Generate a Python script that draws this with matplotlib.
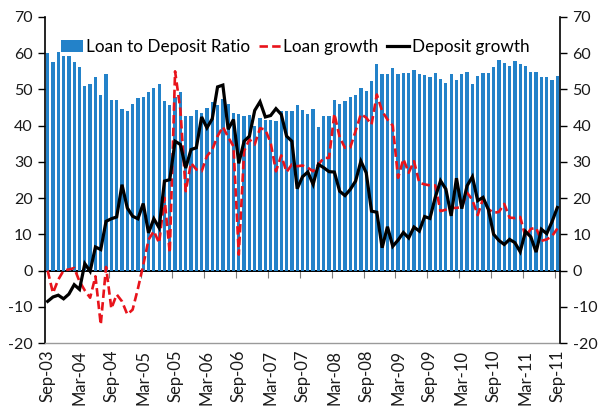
import matplotlib
matplotlib.use("Agg")
import matplotlib.pyplot as plt
from matplotlib.ticker import FixedLocator, NullFormatter
import numpy as np

plt.rcParams['font.family'] = ['Lato', 'DejaVu Sans']

# Monthly series, Sep-03 .. Sep-11
loan_to_deposit = [60.0, 57.7, 60.4, 59.3, 59.3, 57.7, 56.1, 51.0, 51.6, 53.3,
                   48.5, 54.2, 47.0, 47.0, 44.7, 44.1, 46.1, 47.7, 47.9, 49.2,
                   50.4, 51.5, 46.8, 45.6, 48.0, 49.4, 42.8, 42.8, 44.2, 43.6,
                   44.9, 46.5, 45.6, 47.4, 45.9, 43.4, 43.1, 42.8, 43.0, 39.9,
                   42.0, 41.7, 41.7, 41.3, 44.0, 44.0, 44.0, 45.6, 44.3, 43.2,
                   44.5, 39.7, 42.7, 42.7, 47.1, 45.9, 46.7, 47.9, 48.6, 50.5,
                   49.5, 52.3, 57.1, 54.3, 54.3, 56.0, 54.4, 54.6, 54.6, 55.4,
                   54.4, 54.0, 53.5, 54.5, 53.0, 51.7, 54.2, 52.5, 54.3, 54.9,
                   51.6, 53.7, 54.5, 54.6, 56.3, 58.2, 57.4, 56.4, 57.8, 57.1,
                   56.4, 54.8, 54.8, 53.5, 53.5, 52.5, 53.7]

loan_growth = [0.0, -6.2, -2.5, 0.0, 0.3, 0.7, -3.0, -5.5, -7.5, -1.6,
               -14.9, 1.0, -10.5, -6.6, -8.5, -12.1, -10.8, -5.0, 1.5, 8.5,
               10.9, 7.6, 20.1, 4.9, 55.0, 44.4, 21.9, 29.7, 27.9, 27.4,
               31.6, 33.4, 37.1, 39.7, 36.8, 34.3, 4.4, 33.0, 36.2, 34.8,
               39.3, 38.9, 35.3, 27.4, 31.8, 27.2, 29.3, 28.8, 29.0, 28.4,
               27.4, 29.3, 31.1, 31.1, 43.3, 36.8, 33.9, 34.0, 38.5, 43.2,
               42.2, 40.3, 48.6, 44.0, 41.7, 40.0, 25.6, 30.8, 27.0, 30.2,
               24.2, 23.8, 23.5, 23.5, 16.4, 16.8, 17.3, 17.3, 17.5, 21.5,
               19.5, 15.3, 19.8, 17.0, 15.9, 16.2, 18.4, 14.6, 14.5, 14.8,
               9.3, 11.5, 11.8, 8.2, 8.6, 9.5, 11.6]

deposit_growth = [-8.5, -7.3, -6.8, -7.8, -6.5, -3.9, -5.2, 1.9, -0.2, 6.5,
                  5.8, 13.6, 14.3, 14.8, 23.7, 17.3, 15.0, 14.3, 18.5, 10.4,
                  14.3, 11.8, 24.7, 25.1, 35.7, 34.8, 28.3, 33.4, 33.9, 42.4,
                  39.4, 41.9, 50.7, 51.2, 39.0, 41.7, 29.6, 35.7, 37.1, 44.2,
                  46.6, 42.4, 42.8, 44.7, 43.1, 37.1, 35.7, 22.6, 25.9, 27.2,
                  23.8, 29.3, 28.4, 27.3, 27.2, 21.9, 20.7, 22.4, 24.7, 30.2,
                  27.0, 16.4, 16.1, 6.3, 12.1, 6.7, 8.4, 10.5, 9.0, 12.0,
                  10.9, 14.9, 14.4, 20.2, 24.8, 22.5, 15.1, 25.5, 17.1, 23.4,
                  25.9, 19.3, 20.2, 16.9, 10.0, 8.3, 7.2, 8.6, 7.7, 5.2,
                  10.8, 9.3, 5.1, 11.4, 10.2, 13.5, 17.4]

tick_labels = ['Sep-03', 'Mar-04', 'Sep-04', 'Mar-05', 'Sep-05', 'Mar-06',
               'Sep-06', 'Mar-07', 'Sep-07', 'Mar-08', 'Sep-08', 'Mar-09',
               'Sep-09', 'Mar-10', 'Sep-10', 'Mar-11', 'Sep-11']

BLUE = '#2382c9'
RED = '#e8131b'

n = len(loan_to_deposit)
x = np.arange(n)

fig = plt.figure(figsize=(6.05, 4.11), dpi=100)
ax = fig.add_axes([45 / 605, 1 - 343 / 411, 515 / 605, 326 / 411])

bars = ax.bar(x, loan_to_deposit, width=0.62, color=BLUE, linewidth=0,
              label='Loan to Deposit Ratio', zorder=2)
loan_line, = ax.plot(x, loan_growth, color=RED, lw=1.9, ls=(0, (3.2, 1.6)),
                     label='Loan growth', zorder=3)
dep_line, = ax.plot(x, deposit_growth, color='black', lw=2.3,
                    label='Deposit growth', zorder=4, solid_joinstyle='miter')

ax.set_xlim(-0.5, n - 0.5)
ax.set_ylim(-20, 70)
yt = np.arange(-20, 71, 10)
ax.set_yticks(yt)
ax.set_yticklabels([str(v) for v in yt])

# category labels at the bottom
ax.set_xticks(x[::6])
ax.set_xticklabels(tick_labels, rotation=90, fontsize=12, color='#1a1a1a')
ax.tick_params(axis='x', length=0, pad=5)
ax.tick_params(axis='y', direction='out', length=5, width=1,
               labelsize=11.5, pad=4, colors='black', labelcolor='#1a1a1a')

ax.spines['top'].set_visible(False)
ax.spines['bottom'].set_color('#9a9a9a')
ax.spines['bottom'].set_linewidth(1.0)
ax.spines['left'].set_linewidth(1.2)
ax.spines['right'].set_visible(False)

# zero line with category tick marks
zero = ax.secondary_xaxis(20 / 90)
zero.spines['bottom'].set_linewidth(1.4)
zero.spines['bottom'].set_color('black')
zero.xaxis.set_major_locator(FixedLocator(np.arange(-0.5, n, 6)))
zero.xaxis.set_major_formatter(NullFormatter())
zero.tick_params(axis='x', direction='out', length=5, width=0.8,
                 color='#7f7f7f')

# right-hand axis with the same scale
ax2 = ax.twinx()
ax2.set_ylim(ax.get_ylim())
ax2.set_yticks(yt)
ax2.set_yticklabels([str(v) for v in yt])
ax2.tick_params(axis='y', direction='out', length=5, width=1,
                labelsize=11.5, pad=4, labelcolor='#1a1a1a')
for side in ('top', 'left', 'bottom'):
    ax2.spines[side].set_visible(False)
ax2.spines['right'].set_linewidth(1.2)

ax.legend(handles=[bars, loan_line, dep_line],
          loc='upper left', bbox_to_anchor=(0.018, 0.955), ncol=3,
          frameon=False, fontsize=12.3, handlelength=1.3,
          handletextpad=0.15, columnspacing=0.5, borderaxespad=0)

fig.savefig('out.png', dpi=100)
